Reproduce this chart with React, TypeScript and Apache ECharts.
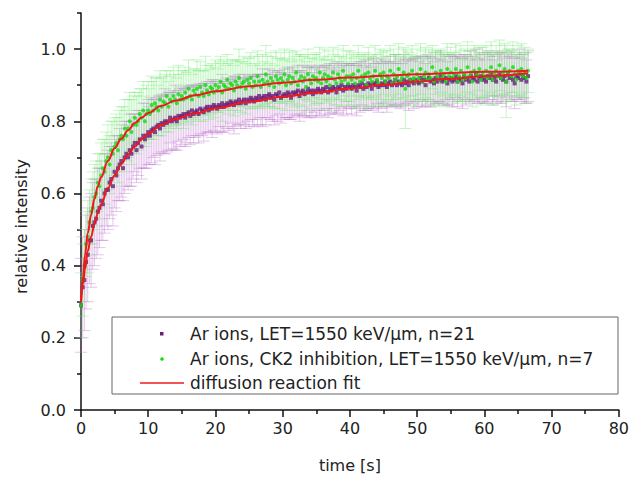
import React, { useEffect, useRef } from "react";
import * as echarts from "echarts";

// Frame interval of the time series (s)
const FRAME_INTERVAL = 0.25;

// Ar ions, LET=1550 keV/µm, n=21
const AR_VALUES = [
  0.29, 0.34, 0.36, 0.41, 0.43, 0.47, 0.47, 0.51, 0.52, 0.53, 0.55, 0.56, 0.58, 0.57, 0.6, 0.61, 0.61, 0.63, 0.64, 0.62,
  0.66, 0.65, 0.67, 0.68, 0.69, 0.67, 0.7, 0.71, 0.7, 0.72, 0.71, 0.73, 0.74, 0.72, 0.74, 0.75, 0.73, 0.76, 0.75, 0.76,
  0.77, 0.76, 0.775, 0.78, 0.77, 0.785, 0.79, 0.78, 0.795, 0.79, 0.8, 0.795, 0.8, 0.81, 0.8, 0.805, 0.81, 0.8, 0.815, 0.81,
  0.815, 0.82, 0.81, 0.82, 0.825, 0.815, 0.83, 0.82, 0.825, 0.83, 0.82, 0.835, 0.83, 0.825, 0.835, 0.84, 0.83, 0.84, 0.835, 0.845,
  0.84, 0.835, 0.845, 0.84, 0.85, 0.84, 0.845, 0.85, 0.845, 0.855, 0.85, 0.845, 0.855, 0.85, 0.86, 0.85, 0.855, 0.86, 0.85, 0.86,
  0.855, 0.865, 0.86, 0.855, 0.865, 0.86, 0.87, 0.86, 0.865, 0.87, 0.86, 0.87, 0.875, 0.865, 0.87, 0.86, 0.875, 0.87, 0.88, 0.865,
  0.87, 0.875, 0.87, 0.88, 0.875, 0.865, 0.88, 0.875, 0.88, 0.885, 0.87, 0.88, 0.885, 0.875, 0.88, 0.89, 0.88, 0.885, 0.875, 0.885,
  0.88, 0.89, 0.885, 0.88, 0.89, 0.885, 0.895, 0.88, 0.89, 0.885, 0.895, 0.89, 0.88, 0.895, 0.89, 0.9, 0.885, 0.895, 0.89, 0.9,
  0.895, 0.89, 0.9, 0.895, 0.885, 0.9, 0.895, 0.905, 0.89, 0.9, 0.895, 0.905, 0.9, 0.89, 0.905, 0.9, 0.91, 0.895, 0.9, 0.905,
  0.9, 0.91, 0.895, 0.905, 0.91, 0.9, 0.905, 0.915, 0.9, 0.91, 0.905, 0.9, 0.915, 0.905, 0.91, 0.9, 0.915, 0.91, 0.905, 0.915,
  0.91, 0.905, 0.92, 0.91, 0.915, 0.9, 0.915, 0.92, 0.91, 0.915, 0.905, 0.92, 0.91, 0.915, 0.925, 0.91, 0.915, 0.92, 0.905, 0.915,
  0.92, 0.91, 0.915, 0.925, 0.91, 0.92, 0.915, 0.905, 0.925, 0.915, 0.92, 0.91, 0.925, 0.92, 0.915, 0.93, 0.91, 0.92, 0.925, 0.915,
  0.92, 0.91, 0.925, 0.92, 0.93, 0.915, 0.92, 0.91, 0.925, 0.93, 0.92, 0.915, 0.925, 0.91, 0.93, 0.92, 0.925, 0.915, 0.905, 0.925,
  0.92, 0.93, 0.915, 0.925, 0.92, 0.91, 0.925,
];
const AR_ERRORS = [
  0.13, 0.14, 0.14, 0.13, 0.13, 0.12, 0.13, 0.12, 0.12, 0.11, 0.12, 0.11, 0.11, 0.1, 0.11, 0.1, 0.11, 0.1, 0.1, 0.11,
  0.1, 0.1, 0.09, 0.1, 0.1, 0.09, 0.1, 0.09, 0.09, 0.1, 0.09, 0.09, 0.08, 0.09, 0.09, 0.08, 0.09, 0.09, 0.08, 0.09,
  0.09, 0.08, 0.09, 0.08, 0.09, 0.08, 0.08, 0.09, 0.08, 0.08, 0.09, 0.08, 0.08, 0.07, 0.08, 0.08, 0.09, 0.08, 0.07, 0.08,
  0.08, 0.07, 0.08, 0.08, 0.07, 0.08, 0.07, 0.08, 0.07, 0.07, 0.08, 0.07, 0.07, 0.08, 0.07, 0.07, 0.06, 0.07, 0.08, 0.07,
  0.07, 0.07, 0.06, 0.07, 0.08, 0.07, 0.06, 0.07, 0.07, 0.06, 0.07, 0.08, 0.07, 0.06, 0.07, 0.07, 0.06, 0.07, 0.07, 0.06,
  0.07, 0.06, 0.07, 0.07, 0.06, 0.07, 0.06, 0.07, 0.08, 0.06, 0.07, 0.06, 0.07, 0.06, 0.07, 0.07, 0.06, 0.07, 0.06, 0.07,
  0.06, 0.07, 0.06, 0.07, 0.07, 0.06, 0.07, 0.06, 0.06, 0.07, 0.07, 0.06, 0.07, 0.06, 0.07, 0.06, 0.07, 0.07, 0.06, 0.06,
  0.07, 0.06, 0.07, 0.06, 0.06, 0.07, 0.06, 0.07, 0.07, 0.06, 0.06, 0.07, 0.06, 0.07, 0.06, 0.06, 0.07, 0.06, 0.07, 0.06,
  0.06, 0.07, 0.06, 0.06, 0.07, 0.06, 0.07, 0.06, 0.06, 0.07, 0.06, 0.07, 0.06, 0.06, 0.07, 0.06, 0.06, 0.07, 0.06, 0.07,
  0.06, 0.06, 0.07, 0.06, 0.07, 0.06, 0.06, 0.07, 0.06, 0.06, 0.07, 0.06, 0.07, 0.06, 0.06, 0.07, 0.06, 0.06, 0.07, 0.06,
  0.07, 0.06, 0.06, 0.07, 0.06, 0.06, 0.07, 0.06, 0.07, 0.06, 0.06, 0.07, 0.06, 0.06, 0.07, 0.06, 0.07, 0.06, 0.06, 0.07,
  0.06, 0.07, 0.06, 0.06, 0.07, 0.06, 0.06, 0.07, 0.06, 0.07, 0.06, 0.06, 0.07, 0.06, 0.06, 0.07, 0.06, 0.07, 0.06, 0.06,
  0.07, 0.06, 0.07, 0.06, 0.06, 0.07, 0.06, 0.06, 0.07, 0.06, 0.07, 0.06, 0.06, 0.07, 0.06, 0.06, 0.07, 0.06, 0.07, 0.06,
  0.06, 0.07, 0.06, 0.06, 0.07, 0.06, 0.07,
];

// Ar ions, CK2 inhibition, LET=1550 keV/µm, n=7
const CK2_VALUES = [
  0.29, 0.36, 0.4, 0.46, 0.48, 0.52, 0.55, 0.56, 0.59, 0.6, 0.63, 0.62, 0.65, 0.67, 0.66, 0.69, 0.7, 0.68, 0.72, 0.71,
  0.73, 0.74, 0.72, 0.75, 0.76, 0.75, 0.78, 0.76, 0.78, 0.8, 0.77, 0.79, 0.81, 0.79, 0.8, 0.82, 0.81, 0.83, 0.8, 0.82,
  0.83, 0.82, 0.845, 0.83, 0.85, 0.84, 0.83, 0.86, 0.84, 0.855, 0.85, 0.87, 0.84, 0.86, 0.855, 0.87, 0.86, 0.85, 0.875, 0.86,
  0.87, 0.86, 0.88, 0.865, 0.89, 0.87, 0.86, 0.885, 0.875, 0.89, 0.87, 0.895, 0.88, 0.87, 0.9, 0.885, 0.875, 0.895, 0.89, 0.88,
  0.9, 0.885, 0.895, 0.91, 0.88, 0.9, 0.895, 0.915, 0.89, 0.905, 0.9, 0.885, 0.91, 0.9, 0.92, 0.895, 0.905, 0.91, 0.89, 0.915,
  0.905, 0.92, 0.895, 0.91, 0.9, 0.925, 0.91, 0.895, 0.915, 0.905, 0.93, 0.91, 0.9, 0.92, 0.91, 0.895, 0.925, 0.915, 0.905, 0.92,
  0.91, 0.93, 0.9, 0.915, 0.925, 0.905, 0.92, 0.91, 0.935, 0.9, 0.915, 0.925, 0.91, 0.92, 0.895, 0.93, 0.915, 0.905, 0.925, 0.915,
  0.92, 0.91, 0.935, 0.905, 0.92, 0.93, 0.91, 0.925, 0.9, 0.92, 0.935, 0.915, 0.905, 0.93, 0.92, 0.91, 0.94, 0.915, 0.925, 0.905,
  0.925, 0.915, 0.93, 0.905, 0.92, 0.94, 0.91, 0.925, 0.915, 0.93, 0.9, 0.935, 0.92, 0.91, 0.925, 0.94, 0.915, 0.905, 0.93, 0.92,
  0.935, 0.91, 0.925, 0.92, 0.94, 0.905, 0.93, 0.915, 0.925, 0.945, 0.91, 0.92, 0.935, 0.89, 0.925, 0.93, 0.915, 0.94, 0.92, 0.91,
  0.93, 0.92, 0.945, 0.91, 0.925, 0.935, 0.915, 0.93, 0.92, 0.95, 0.91, 0.935, 0.925, 0.915, 0.94, 0.92, 0.93, 0.91, 0.945, 0.925,
  0.935, 0.92, 0.93, 0.945, 0.91, 0.925, 0.94, 0.915, 0.93, 0.92, 0.95, 0.925, 0.935, 0.91, 0.94, 0.925, 0.93, 0.945, 0.915, 0.935,
  0.925, 0.94, 0.92, 0.935, 0.95, 0.915, 0.93, 0.94, 0.925, 0.955, 0.92, 0.935, 0.945, 0.91, 0.93, 0.94, 0.925, 0.95, 0.93, 0.915,
  0.94, 0.93, 0.945, 0.925, 0.935, 0.92, 0.94,
];
const CK2_ERRORS = [
  0.09, 0.1, 0.1, 0.09, 0.1, 0.09, 0.09, 0.1, 0.09, 0.09, 0.08, 0.09, 0.09, 0.08, 0.09, 0.08, 0.09, 0.08, 0.08, 0.09,
  0.08, 0.08, 0.09, 0.08, 0.08, 0.09, 0.08, 0.07, 0.08, 0.08, 0.09, 0.08, 0.07, 0.08, 0.08, 0.07, 0.08, 0.08, 0.07, 0.08,
  0.08, 0.07, 0.08, 0.08, 0.07, 0.08, 0.07, 0.08, 0.08, 0.07, 0.08, 0.07, 0.07, 0.08, 0.07, 0.08, 0.07, 0.07, 0.08, 0.07,
  0.07, 0.08, 0.07, 0.07, 0.08, 0.07, 0.07, 0.06, 0.07, 0.08, 0.07, 0.07, 0.06, 0.07, 0.08, 0.07, 0.07, 0.06, 0.07, 0.07,
  0.07, 0.06, 0.07, 0.07, 0.08, 0.07, 0.06, 0.07, 0.07, 0.06, 0.07, 0.07, 0.06, 0.07, 0.08, 0.07, 0.06, 0.07, 0.07, 0.06,
  0.07, 0.07, 0.06, 0.07, 0.06, 0.07, 0.07, 0.06, 0.07, 0.06, 0.08, 0.07, 0.06, 0.07, 0.07, 0.06, 0.07, 0.06, 0.07, 0.07,
  0.06, 0.07, 0.07, 0.06, 0.07, 0.06, 0.07, 0.07, 0.06, 0.07, 0.07, 0.06, 0.07, 0.06, 0.07, 0.07, 0.06, 0.07, 0.06, 0.07,
  0.07, 0.06, 0.07, 0.07, 0.06, 0.07, 0.06, 0.07, 0.07, 0.06, 0.07, 0.07, 0.06, 0.07, 0.06, 0.07, 0.07, 0.06, 0.07, 0.06,
  0.07, 0.07, 0.06, 0.07, 0.06, 0.07, 0.07, 0.06, 0.07, 0.06, 0.07, 0.07, 0.06, 0.07, 0.06, 0.07, 0.07, 0.06, 0.07, 0.07,
  0.06, 0.07, 0.07, 0.06, 0.07, 0.06, 0.07, 0.07, 0.06, 0.07, 0.07, 0.06, 0.07, 0.11, 0.07, 0.06, 0.07, 0.07, 0.06, 0.07,
  0.07, 0.06, 0.07, 0.06, 0.07, 0.07, 0.06, 0.07, 0.07, 0.06, 0.07, 0.06, 0.07, 0.07, 0.06, 0.07, 0.06, 0.07, 0.07, 0.06,
  0.07, 0.07, 0.06, 0.07, 0.06, 0.07, 0.07, 0.06, 0.07, 0.06, 0.07, 0.07, 0.06, 0.07, 0.07, 0.06, 0.07, 0.06, 0.07, 0.07,
  0.06, 0.07, 0.07, 0.06, 0.07, 0.07, 0.06, 0.07, 0.06, 0.07, 0.07, 0.06, 0.07, 0.1, 0.07, 0.06, 0.07, 0.07, 0.06, 0.07,
  0.07, 0.06, 0.07, 0.06, 0.07, 0.07, 0.06,
];

// diffusion reaction fits
const FIT_TIMES = [0, 0.3, 0.6, 1, 1.5, 2, 2.5, 3, 4, 5, 6, 7, 8, 9, 10, 12, 14, 17, 20, 25, 30, 35, 40, 45, 50, 55, 60, 66.5];
const FIT_AR = [0.3, 0.35, 0.39, 0.44, 0.48, 0.515, 0.545, 0.57, 0.615, 0.65, 0.682, 0.708, 0.73, 0.75, 0.766, 0.79, 0.806, 0.822, 0.836, 0.854, 0.868, 0.88, 0.891, 0.901, 0.91, 0.918, 0.925, 0.933];
const FIT_CK2 = [0.3, 0.37, 0.43, 0.49, 0.54, 0.585, 0.62, 0.645, 0.69, 0.725, 0.752, 0.775, 0.795, 0.81, 0.823, 0.843, 0.857, 0.872, 0.883, 0.897, 0.907, 0.915, 0.921, 0.926, 0.93, 0.934, 0.937, 0.94];

const SERIES_NAMES = [
  "Ar ions, LET=1550 keV/µm, n=21",
  "Ar ions, CK2 inhibition, LET=1550 keV/µm, n=7",
  "diffusion reaction fit",
];

const Y_MAJOR_TICKS = [0, 0.2, 0.4, 0.6, 0.8, 1.0];
const Y_MINOR_TICKS = [0.1, 0.3, 0.5, 0.7, 0.9, 1.1];

const FONT = "'DejaVu Sans', 'Liberation Sans', sans-serif";
const PURPLE = "#6a1b7c";
const GREEN = "#10dc10";
const RED = "#f0181a";

const toPoints = (values: number[]) => values.map((v, i) => [i * FRAME_INTERVAL, v]);
const toBars = (values: number[], errs: number[]) =>
  values.map((v, i) => [i * FRAME_INTERVAL, v - errs[i], v + errs[i]]);
const toLine = (ts: number[], vs: number[]) => ts.map((t, i) => [t, vs[i]]);

const errorBarRenderer = (color: string) => (params: any, api: any) => {
  const x = api.value(0);
  const lo = api.coord([x, api.value(1)]);
  const hi = api.coord([x, api.value(2)]);
  const hw = 6;
  const style = { stroke: color, lineWidth: 1, fill: "none" };
  return {
    type: "group",
    children: [
      { type: "line", shape: { x1: lo[0], y1: lo[1], x2: hi[0], y2: hi[1] }, style },
      { type: "line", shape: { x1: lo[0] - hw, y1: lo[1], x2: lo[0] + hw, y2: lo[1] }, style },
      { type: "line", shape: { x1: hi[0] - hw, y1: hi[1], x2: hi[0] + hw, y2: hi[1] }, style },
    ],
  };
};

export default function App() {
  const ref = useRef<HTMLDivElement>(null);
  useEffect(() => {
    if (!ref.current) return;
    const chart = echarts.init(ref.current, null, { renderer: "svg" });
    const axisColor = "#111";
    const textColor = "#222";
    chart.setOption({
      animation: false,
      backgroundColor: "#fff",
      grid: { left: 81, right: 12, top: 13, bottom: 68 },
      xAxis: {
        type: "value",
        min: 0,
        max: 80,
        interval: 10,
        axisLine: { show: true, onZero: false, lineStyle: { color: axisColor, width: 1.5 } },
        axisTick: { show: true, inside: false, length: 7, lineStyle: { color: axisColor, width: 1.5 } },
        minorTick: { show: true, splitNumber: 2, length: 4, lineStyle: { color: axisColor, width: 1.5 } },
        axisLabel: { color: textColor, fontSize: 16, fontFamily: FONT, margin: 10 },
        splitLine: { show: false },
        minorSplitLine: { show: false },
        name: "time [s]",
        nameLocation: "middle",
        nameGap: 47,
        nameTextStyle: { color: textColor, fontSize: 16, fontFamily: FONT },
      },
      yAxis: [
        {
          type: "value",
          min: 0,
          max: 1.1,
          position: "left",
          axisLine: { show: true, onZero: false, lineStyle: { color: axisColor, width: 1.5 } },
          axisTick: { show: true, inside: false, length: 7, customValues: Y_MAJOR_TICKS, lineStyle: { color: axisColor, width: 1.5 } },
          axisLabel: {
            color: textColor,
            fontSize: 16,
            fontFamily: FONT,
            margin: 15,
            customValues: Y_MAJOR_TICKS,
            formatter: (v: number) => v.toFixed(1),
          },
          splitLine: { show: false },
          name: "relative intensity",
          nameLocation: "middle",
          nameGap: 52,
          nameTextStyle: { color: textColor, fontSize: 16, fontFamily: FONT, padding: [0, 30, 0, 0] },
        },
        {
          type: "value",
          min: 0,
          max: 1.1,
          position: "left",
          axisLine: { show: false },
          axisTick: { show: true, inside: false, length: 4, customValues: Y_MINOR_TICKS, lineStyle: { color: axisColor, width: 1.5 } },
          axisLabel: { show: false },
          splitLine: { show: false },
        },
      ],
      series: [
        {
          type: "custom",
          name: SERIES_NAMES[0] + " error",
          renderItem: errorBarRenderer("rgba(190, 115, 205, 0.4)"),
          encode: { x: 0, y: [1, 2] },
          data: toBars(AR_VALUES, AR_ERRORS),
          z: 1,
        },
        {
          type: "custom",
          name: SERIES_NAMES[1] + " error",
          renderItem: errorBarRenderer("rgba(105, 235, 105, 0.38)"),
          encode: { x: 0, y: [1, 2] },
          data: toBars(CK2_VALUES, CK2_ERRORS),
          z: 2,
        },
        {
          type: "scatter",
          name: SERIES_NAMES[0],
          symbol: "rect",
          symbolSize: 4,
          itemStyle: { color: PURPLE },
          data: toPoints(AR_VALUES),
          z: 3,
        },
        {
          type: "scatter",
          name: SERIES_NAMES[1],
          symbol: "circle",
          symbolSize: 4,
          itemStyle: { color: GREEN },
          data: toPoints(CK2_VALUES),
          z: 4,
        },
        {
          type: "line",
          name: SERIES_NAMES[2],
          smooth: 0.4,
          smoothMonotone: "x",
          showSymbol: false,
          lineStyle: { color: RED, width: 2 },
          data: toLine(FIT_TIMES, FIT_AR),
          z: 5,
        },
        {
          type: "line",
          name: SERIES_NAMES[2] + " (CK2)",
          smooth: 0.4,
          smoothMonotone: "x",
          showSymbol: false,
          lineStyle: { color: RED, width: 2 },
          data: toLine(FIT_TIMES, FIT_CK2),
          z: 5,
        },
      ],
      graphic: {
        elements: [
          {
            type: "rect",
            z: 100,
            shape: { x: 112, y: 317, width: 506, height: 77 },
            style: { fill: "#fff", stroke: "#666", lineWidth: 1 },
          },
          {
            type: "rect",
            z: 101,
            shape: { x: 160, y: 332, width: 3.5, height: 3.5 },
            style: { fill: PURPLE },
          },
          {
            type: "circle",
            z: 101,
            shape: { cx: 162, cy: 359, r: 1.8 },
            style: { fill: GREEN },
          },
          {
            type: "line",
            z: 101,
            shape: { x1: 140, y1: 383, x2: 184, y2: 383 },
            style: { stroke: RED, lineWidth: 1.5 },
          },
          {
            type: "text",
            z: 101,
            x: 190,
            y: 334,
            style: { text: SERIES_NAMES[0], fill: textColor, font: `17px ${FONT}`, verticalAlign: "middle" },
          },
          {
            type: "text",
            z: 101,
            x: 190,
            y: 359,
            style: { text: SERIES_NAMES[1], fill: textColor, font: `17px ${FONT}`, verticalAlign: "middle" },
          },
          {
            type: "text",
            z: 101,
            x: 190,
            y: 383,
            style: { text: SERIES_NAMES[2], fill: textColor, font: `17px ${FONT}`, verticalAlign: "middle" },
          },
        ],
      },
    });
    return () => chart.dispose();
  }, []);
  return (
    <div
      ref={ref}
      style={{ position: "absolute", left: 0, top: 0, width: 632, height: 478 }}
    />
  );
}
